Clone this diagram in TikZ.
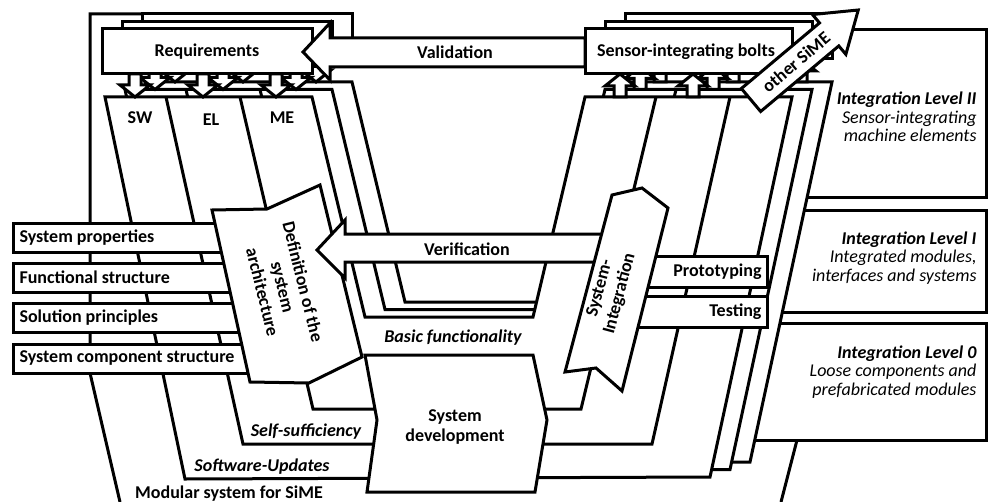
\documentclass[tikz,border=0pt]{standalone}
\usepackage{fontspec}
\setmainfont{Carlito}
\newcommand\dnarrow[1]{\path[blk] ({#1-6},74) -- ({#1+6},74) -- ({#1+6},85) -- ({#1+15},85) -- (#1,97) -- ({#1-15},85) -- ({#1-6},85) -- cycle;}
\newcommand\uparr[1]{\path[blk] ({#1-6},97) -- ({#1+6},97) -- ({#1+6},86) -- ({#1+15},86) -- (#1,74) -- ({#1-15},86) -- ({#1-6},86) -- cycle;}
\begin{document}
\begin{tikzpicture}[x=0.5pt,y=-0.5pt,line width=1.5pt,line join=miter,
  blk/.style={draw,fill=white},
  lab/.style={font=\bfseries\fontsize{9}{10}\selectfont,inner sep=0pt},
  ilab/.style={font=\bfseries\itshape\fontsize{9}{10}\selectfont,inner sep=0pt},
  lvl/.style={font=\fontsize{9}{9.3}\selectfont,inner sep=0pt,anchor=east,align=right}]
\useasboundingbox (0,0) rectangle (988,502);

% outer frame of the modular system
\draw (142,14) -- (90,14) -- (90,373) -- (120,502);
\draw (781,502) -- (797,440);

% integration level shelves
\fill[white] (780,30) rectangle (986,197);
\draw (780,30) -- (986,30) -- (986,197) -- (780,197);
\fill[white] (760,210) rectangle (986,312);
\draw (760,210) -- (986,210) -- (986,312) -- (760,312);
\fill[white] (740,323) rectangle (986,440);
\draw (740,323) -- (986,323) -- (986,440) -- (740,440);

% three stacked V layers, back to front
\foreach \k in {2,1,0}{
  \begin{scope}[shift={(20*\k,-7.5*\k)}]
    \path[blk] (105,97) -- (185,479) -- (710,477) -- (792,97) -- (585,97)
      -- (533,317) -- (365,317) -- (312,97) -- cycle;
    \draw (166,97) -- (243,444) -- (652,444) -- (730,97);
    \draw (240,97) -- (313,409) -- (581,409) -- (656,97);
    \foreach \x in {135,203,276}{\dnarrow{\x}}
    \foreach \x in {620,693,761}{\uparr{\x}}
    \path[blk] (102,29) rectangle (312,74);
    \path[blk] (585,29) rectangle (792,74);
  \end{scope}
}

% left-hand design boxes
\foreach \yt/\txt/\nm in {223/System properties/sp,263/Functional structure/fs,
    303/Solution principles/sol,344/System component structure/scs}{
  \path[blk] (13,\yt) rectangle (265,{\yt+29});
  \node[lab,anchor=west] (\nm) at (18,{\yt+14.5}) {\txt};
}

% definition of the system architecture
\path[blk] (212,210) -- (267,209) -- (320,185) -- (362,357) -- (309,383) -- (250,382) -- cycle;
\node[lab,rotate=-76,align=center,font=\bfseries\fontsize{9}{10.4}\selectfont] (def) at (283,287)
  {Definition of the\\system\\architecture};

% verification
\path[blk] (317,250) -- (345,220) -- (345,234) -- (620,234) -- (620,262) -- (345,262) -- (345,278) -- cycle;
\node[lab] (ver) at (467,249) {Verification};

% prototyping and testing
\path[blk] (630,256) rectangle (767,287);
\node[lab,anchor=east] (proto) at (763,271.5) {Prototyping};
\path[blk] (625,296) rectangle (767,327);
\node[lab,anchor=east] (test) at (763,311.5) {Testing};

% system integration
\path[blk] (565,372) -- (596,368) -- (622,391) -- (668,208) -- (642,188) -- (612,195) -- cycle;
\node[lab,rotate=75,align=center,font=\bfseries\fontsize{9}{10.4}\selectfont] (si) at (610,291) {System-\\Integration};

% system development
\path[blk] (365,355) -- (533,355) -- (547,420) -- (535,492) -- (367,492) -- (377,420) -- cycle;
\node[lab,align=center] (sd) at (455,427) {System\\development};

% validation
\path[blk] (303,52) -- (330,23) -- (330,38) -- (585,38) -- (585,67) -- (330,67) -- (330,80) -- cycle;
\node[lab] (val) at (455,52) {Validation};

% other SiME
\begin{scope}[shift={(751,100)},rotate=40]
  \path[blk] (0,-15) -- (102,-15) -- (102,-26) -- (140,0) -- (102,26) -- (102,15) -- (0,15) -- cycle;
\end{scope}
\node[lab,rotate=40] (oth) at (796,62) {other SiME};

% box and column labels
\node[lab] (req) at (207,52) {Requirements};
\node[lab] (bolt) at (686,52) {Sensor-integrating bolts};
\node[lab] (sw) at (140,118) {SW};
\node[lab] (el) at (211,120) {EL};
\node[lab] (me) at (282,118) {ME};

\node[ilab] (basic) at (453,338) {Basic functionality};
\node[ilab] (self) at (306,432) {Self-sufficiency};
\node[ilab] (upd) at (262,467) {Software-Updates};
\node[lab] (mod) at (229,494) {Modular system for SiME};

\node[lvl] (l2) at (978,117) {{\bfseries\itshape Integration Level II}\\{\itshape Sensor-integrating}\\{\itshape machine elements}};
\node[lvl] (l1) at (978,258) {{\bfseries\itshape Integration Level I}\\{\itshape Integrated modules,}\\{\itshape interfaces and systems}};
\node[lvl] (l0) at (978,372) {{\bfseries\itshape Integration Level 0}\\{\itshape Loose components and}\\{\itshape prefabricated modules}};
\end{tikzpicture}
\end{document}
